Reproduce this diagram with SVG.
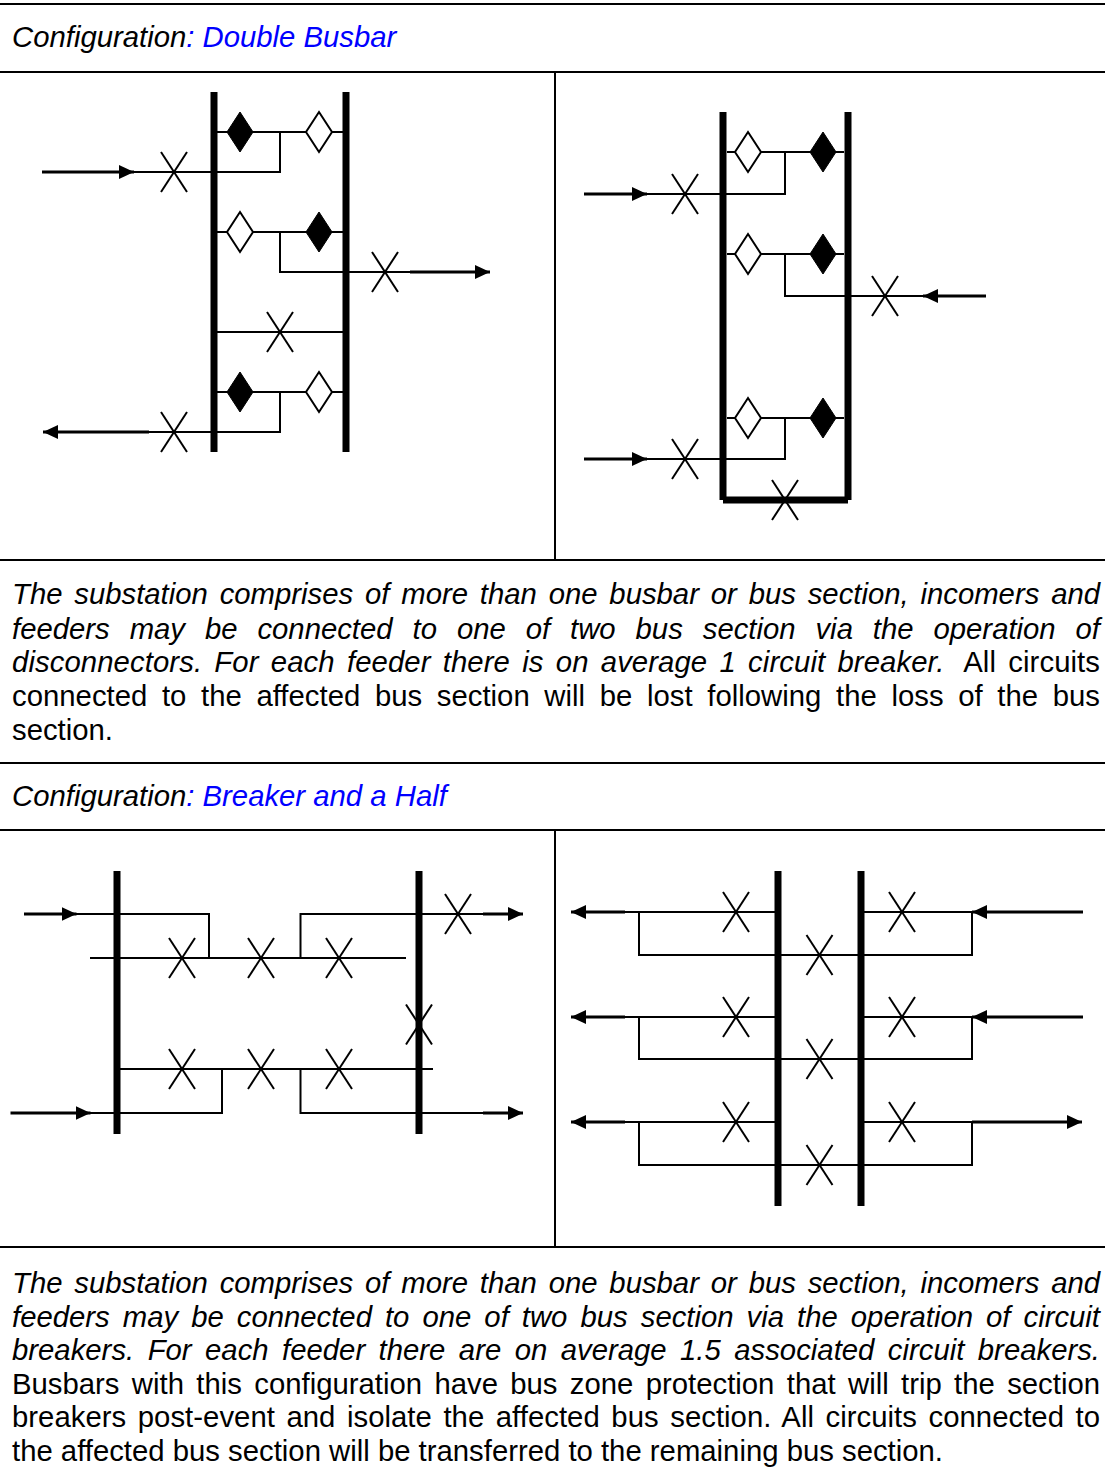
<svg xmlns="http://www.w3.org/2000/svg" xmlns:xlink="http://www.w3.org/1999/xlink" width="1105" height="1477" viewBox="0 0 1105 1477">
<style>
.rule{stroke:#000;stroke-width:2;fill:none}
.bus{stroke:#000;stroke-width:7;fill:none}
.w{stroke:#000;stroke-width:2;fill:none}
.arr{stroke:#000;stroke-width:3;fill:none}
.t{font-family:"Liberation Sans",Arial,sans-serif;font-size:29.3px;fill:#000}
.i{font-style:italic}
.blue{fill:#0000FF}
.dF{fill:#000;stroke:#000;stroke-width:1}
.dO{fill:#fff;stroke:#000;stroke-width:2}
</style>
<defs>
<g id="cb" class="w"><line x1="-13" y1="-20" x2="13" y2="20"/><line x1="13" y1="-20" x2="-13" y2="20"/></g>
<path id="df" class="dF" d="M0,-20 L13,0 L0,20 L-13,0 Z"/>
<path id="do" class="dO" d="M0,-20 L13,0 L0,20 L-13,0 Z"/>
<marker id="ah" markerUnits="userSpaceOnUse" markerWidth="16" markerHeight="14" refX="15" refY="7" orient="auto"><path d="M0,0 L15,7 L0,14 Z" fill="#000"/></marker>
</defs>
<rect width="1105" height="1477" fill="#fff"/>

<g id="table">
<line class="rule" x1="0" y1="4" x2="1105" y2="4" stroke-width="2.5"/>
<line class="rule" x1="0" y1="72" x2="1105" y2="72"/>
<line class="rule" x1="555" y1="72" x2="555" y2="560"/>
<line class="rule" x1="0" y1="560" x2="1105" y2="560"/>
<line class="rule" x1="0" y1="763" x2="1105" y2="763"/>
<line class="rule" x1="0" y1="830" x2="1105" y2="830"/>
<line class="rule" x1="555" y1="830" x2="555" y2="1247"/>
<line class="rule" x1="0" y1="1247" x2="1105" y2="1247"/>
</g>

<g id="heading1"><text class="t i" x="12" y="47">Configuration<tspan class="blue">: Double Busbar</tspan></text></g>
<g id="heading2"><text class="t i" x="12" y="806">Configuration<tspan class="blue">: Breaker and a Half</tspan></text></g>

<g id="para1">
<text class="t i" x="12" y="604" word-spacing="3.7" textLength="1088" lengthAdjust="spacing">The substation comprises of more than one busbar or bus section, incomers and</text>
<text class="t i" x="12" y="639" word-spacing="11.8" textLength="1088" lengthAdjust="spacing">feeders may be connected to one of two bus section via the operation of</text>
<text class="t" x="12" y="672" word-spacing="4" textLength="1088" lengthAdjust="spacing"><tspan class="i">disconnectors. For each feeder there is on average 1 circuit breaker.</tspan><tspan dx="8"> All circuits</tspan></text>
<text class="t" x="12" y="706" word-spacing="6.5" textLength="1088" lengthAdjust="spacing">connected to the affected bus section will be lost following the loss of the bus</text>
<text class="t" x="12" y="740">section.</text>
</g>

<g id="para2">
<text class="t i" x="12" y="1293" word-spacing="3.7" textLength="1088" lengthAdjust="spacing">The substation comprises of more than one busbar or bus section, incomers and</text>
<text class="t i" x="12" y="1326.5" word-spacing="4.9" textLength="1088" lengthAdjust="spacing">feeders may be connected to one of two bus section via the operation of circuit</text>
<text class="t i" x="12" y="1360" word-spacing="5.3" textLength="1088" lengthAdjust="spacing">breakers. For each feeder there are on average 1.5 associated circuit breakers.</text>
<text class="t" x="12" y="1393.5" word-spacing="4.2" textLength="1088" lengthAdjust="spacing">Busbars with this configuration have bus zone protection that will trip the section</text>
<text class="t" x="12" y="1427" word-spacing="3.4" textLength="1088" lengthAdjust="spacing">breakers post-event and isolate the affected bus section. All circuits connected to</text>
<text class="t" x="12" y="1460.5">the affected bus section will be transferred to the remaining bus section.</text>
</g>

<!-- Double busbar, left -->
<g id="db-left-buses">
<line class="bus" x1="214" y1="92" x2="214" y2="452"/>
<line class="bus" x1="346" y1="92" x2="346" y2="452"/>
</g>
<g id="db-left-connectors">
<path class="w" d="M217,132 H343 M280,132 V172 H134"/>
<path class="w" d="M217,232 H343 M280,232 V272 H410"/>
<path class="w" d="M217,332 H343"/>
<path class="w" d="M217,392 H343 M280,392 V432 H149"/>
<line class="arr" x1="42" y1="172" x2="134" y2="172" marker-end="url(#ah)"/>
<line class="arr" x1="410" y1="272" x2="490" y2="272" marker-end="url(#ah)"/>
<line class="arr" x1="149" y1="432" x2="43" y2="432" marker-end="url(#ah)"/>
</g>
<g id="db-left-devices">
<use xlink:href="#df" x="240" y="132"/><use xlink:href="#do" x="319" y="132"/>
<use xlink:href="#do" x="240" y="232"/><use xlink:href="#df" x="319" y="232"/>
<use xlink:href="#df" x="240" y="392"/><use xlink:href="#do" x="319" y="392"/>
<use xlink:href="#cb" x="174" y="172"/>
<use xlink:href="#cb" x="385" y="272"/>
<use xlink:href="#cb" x="280" y="332"/>
<use xlink:href="#cb" x="174" y="432"/>
</g>

<!-- Double busbar, right -->
<g id="db-right-buses">
<line class="bus" x1="723" y1="112" x2="723" y2="500"/>
<line class="bus" x1="848" y1="112" x2="848" y2="500"/>
<rect x="723" y="496.5" width="125" height="7" fill="#000"/>
</g>
<g id="db-right-connectors">
<path class="w" d="M727,152 H844 M785,152 V194 H647"/>
<path class="w" d="M727,254 H844 M785,254 V296 H923"/>
<path class="w" d="M727,418 H844 M785,418 V459 H647"/>
<line class="arr" x1="584" y1="194" x2="647" y2="194" marker-end="url(#ah)"/>
<line class="arr" x1="986" y1="296" x2="923" y2="296" marker-end="url(#ah)"/>
<line class="arr" x1="584" y1="459" x2="647" y2="459" marker-end="url(#ah)"/>
</g>
<g id="db-right-devices">
<use xlink:href="#do" x="748" y="152"/><use xlink:href="#df" x="823" y="152"/>
<use xlink:href="#do" x="748" y="254"/><use xlink:href="#df" x="823" y="254"/>
<use xlink:href="#do" x="748" y="418"/><use xlink:href="#df" x="823" y="418"/>
<use xlink:href="#cb" x="685" y="194"/>
<use xlink:href="#cb" x="885" y="296"/>
<use xlink:href="#cb" x="685" y="459"/>
<use xlink:href="#cb" x="785" y="500"/>
</g>

<!-- Breaker and a half, left -->
<g id="bh-left-buses">
<line class="bus" x1="117" y1="871" x2="117" y2="1134"/>
<line class="bus" x1="419" y1="871" x2="419" y2="1134"/>
</g>
<g id="bh-left-connectors">
<path class="w" d="M76,914 H209 V958 M90,958 H406 M300.5,958 V914 H508"/>
<path class="w" d="M117,1069 H433 M222,1069 V1113 H90 M300.5,1069 V1113 H483"/>
<line class="arr" x1="24" y1="914" x2="76.5" y2="914" marker-end="url(#ah)"/>
<line class="arr" x1="483" y1="914" x2="523" y2="914" marker-end="url(#ah)"/>
<line class="arr" x1="10.5" y1="1113" x2="90.5" y2="1113" marker-end="url(#ah)"/>
<line class="arr" x1="483" y1="1113" x2="523" y2="1113" marker-end="url(#ah)"/>
</g>
<g id="bh-left-devices">
<use xlink:href="#cb" x="182" y="958"/><use xlink:href="#cb" x="261" y="958"/><use xlink:href="#cb" x="339" y="958"/>
<use xlink:href="#cb" x="458" y="914"/>
<use xlink:href="#cb" x="419" y="1024.5"/>
<use xlink:href="#cb" x="182" y="1069"/><use xlink:href="#cb" x="261" y="1069"/><use xlink:href="#cb" x="339" y="1069"/>
</g>

<!-- Breaker and a half, right -->
<g id="bh-right-buses">
<line class="bus" x1="778" y1="871" x2="778" y2="1206"/>
<line class="bus" x1="861" y1="871" x2="861" y2="1206"/>
</g>
<g id="bh-right-connectors">
<path class="w" d="M625,912 H778 M639,912 V955 H972 V912 H861"/>
<path class="w" d="M625,1017 H778 M639,1017 V1059 H972 V1017 H861"/>
<path class="w" d="M625,1122 H778 M639,1122 V1165 H972 V1122 H861"/>
<line class="arr" x1="625" y1="912" x2="571" y2="912" marker-end="url(#ah)"/>
<line class="arr" x1="625" y1="1017" x2="571" y2="1017" marker-end="url(#ah)"/>
<line class="arr" x1="625" y1="1122" x2="571" y2="1122" marker-end="url(#ah)"/>
<line class="arr" x1="1083" y1="912" x2="972" y2="912" marker-end="url(#ah)"/>
<line class="arr" x1="1083" y1="1017" x2="972" y2="1017" marker-end="url(#ah)"/>
<line class="arr" x1="972" y1="1122" x2="1082" y2="1122" marker-end="url(#ah)"/>
</g>
<g id="bh-right-devices">
<use xlink:href="#cb" x="736" y="912"/><use xlink:href="#cb" x="902" y="912"/><use xlink:href="#cb" x="819.5" y="955"/>
<use xlink:href="#cb" x="736" y="1017"/><use xlink:href="#cb" x="902" y="1017"/><use xlink:href="#cb" x="819.5" y="1059"/>
<use xlink:href="#cb" x="736" y="1122"/><use xlink:href="#cb" x="902" y="1122"/><use xlink:href="#cb" x="819.5" y="1165"/>
</g>
</svg>
